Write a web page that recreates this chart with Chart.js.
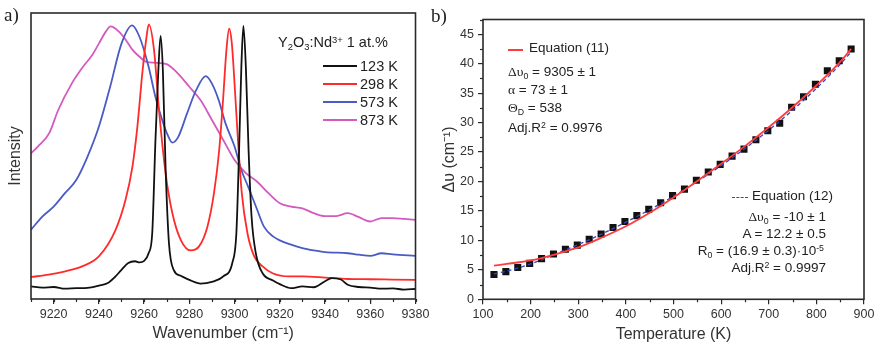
<!DOCTYPE html>
<html><head><meta charset="utf-8">
<script src="https://cdn.jsdelivr.net/npm/chart.js@4.4.1/dist/chart.umd.min.js"></script>
<style>
html,body{margin:0;padding:0;background:#fff;}
#wrap{position:relative;width:883px;height:347px;overflow:hidden;font-family:"Liberation Sans",Arial,sans-serif;color:#222;}
canvas{position:absolute;top:0;}
#ca{left:0;}
#cb{left:440px;}
.t{position:absolute;white-space:nowrap;line-height:1;}
.s{font-family:"Liberation Serif","Times New Roman",serif;}
sub,sup{font-size:65%;line-height:0;position:relative;vertical-align:baseline;}
sub{top:0.35em;} sup{top:-0.45em;}
.ln{position:absolute;height:0;}
</style></head>
<body><div id="wrap">
<canvas id="ca" width="440" height="347"></canvas>
<canvas id="cb" width="443" height="347"></canvas>

<div class="t s" style="left:4px;top:5px;font-size:19px;">a)</div>
<div class="t s" style="left:431px;top:6px;font-size:19px;">b)</div>

<div class="t" style="left:278px;top:35px;font-size:14.5px;">Y<sub>2</sub>O<sub>3</sub>:Nd<sup>3+</sup> 1 at.%</div>
<div class="ln" style="left:323px;top:65px;width:34px;border-top:2px solid #111;"></div>
<div class="t" style="left:360px;top:59px;font-size:14.5px;">123 K</div>
<div class="ln" style="left:323px;top:83px;width:34px;border-top:2px solid #ff2a2a;"></div>
<div class="t" style="left:360px;top:77px;font-size:14.5px;">298 K</div>
<div class="ln" style="left:323px;top:101px;width:34px;border-top:2px solid #4a5bc4;"></div>
<div class="t" style="left:360px;top:95px;font-size:14.5px;">573 K</div>
<div class="ln" style="left:323px;top:119px;width:34px;border-top:2px solid #d35bbf;"></div>
<div class="t" style="left:360px;top:113px;font-size:14.5px;">873 K</div>

<div class="ln" style="left:508px;top:49px;width:15px;border-top:2px solid #ff3b3b;"></div>
<div class="t" style="left:529px;top:41px;font-size:13.5px;">Equation (11)</div>
<div class="t" style="left:508px;top:65px;font-size:13.5px;"><span class="s">Δυ</span><sub>0</sub> = 9305 ± 1</div>
<div class="t" style="left:508px;top:83px;font-size:13.5px;"><span class="s">α</span> = 73 ± 1</div>
<div class="t" style="left:508px;top:101px;font-size:13.5px;"><span class="s">Θ</span><sub>D</sub> = 538</div>
<div class="t" style="left:508px;top:121px;font-size:13.5px;">Adj.R<sup>2</sup> = 0.9976</div>

<div class="ln" style="left:732px;top:197px;width:16px;border-top:1.5px dashed #3347c0;"></div>
<div class="t" style="left:752px;top:189px;font-size:13.5px;">Equation (12)</div>
<div class="t" style="right:57px;top:210px;font-size:13.5px;text-align:right;"><span class="s">Δυ</span><sub>0</sub> = -10 ± 1</div>
<div class="t" style="right:57px;top:227px;font-size:13.5px;text-align:right;">A = 12.2 ± 0.5</div>
<div class="t" style="right:59px;top:244px;font-size:13.5px;text-align:right;">R<sub>0</sub> = (16.9 ± 0.3)·10<sup>-5</sup></div>
<div class="t" style="right:57px;top:261px;font-size:13.5px;text-align:right;">Adj.R<sup>2</sup> = 0.9997</div>
</div>
<script>
// ---------- Panel a data ----------
const xTicksA = [9220,9240,9260,9280,9300,9320,9340,9360,9380];
const wn123 = [9210,9215,9220,9225,9230,9235,9240,9244,9247,9250,9253,9256,9258,9260,9262,9263.6,9265,9266.3,9267.3,9268.3,9269.5,9271,9273.2,9276,9280,9285,9290,9295,9299,9300.8,9302,9303,9303.9,9305,9306.2,9307.5,9309.4,9312.4,9317,9320,9325,9330,9335,9340,9343,9347,9350,9355,9360,9365,9370,9375,9380];
const int123 = [4.4,4.0,4.2,3.6,3.8,3.9,4.7,5.6,7.6,10.2,12.6,13.2,12.8,13.3,16,23,55,80,92,80,46,19.5,10,8.2,6.7,5.4,6.0,7.9,12.6,23,52,81,95.5,81,52,29,16,9,6.5,5.2,3.8,4.4,4.1,6.2,7.3,6.8,5.0,4.2,4.0,3.6,3.7,3.3,3.5];
const wn298 = [9210,9217.8,9225.2,9232.6,9240,9247.4,9251.8,9254.8,9257,9259.2,9260.8,9262.1,9264.4,9266.6,9269.5,9272.5,9276.2,9280.6,9284.3,9288,9290.9,9293.2,9294.9,9296.4,9297.6,9298.8,9300,9301.5,9303.2,9305.7,9308.7,9312.4,9316.8,9324.2,9330,9340,9350,9360,9370,9380];
const int298 = [7.7,8.5,9.7,11.4,14.9,24.2,34.7,46,60,78.8,90,96,87,66,44,30,20.7,17,18.4,25.3,37,52,69.5,87,94.5,89.3,75.3,55.6,37,23,14.9,11.4,9,7.9,7.9,7.5,7.0,6.9,6.8,6.7];
const wn573 = [9210,9215,9220,9225,9230,9235,9240,9245,9250,9254.7,9258,9262,9265,9268,9270.5,9272.5,9275,9279,9283,9287.3,9290,9293,9296,9300,9303,9306,9310,9313,9317,9320,9325,9330,9335,9340,9350,9355,9360,9365,9370,9380];
const int573 = [24.2,28.8,32.3,37,41.6,49.8,60.2,74.2,89.3,95.7,91.6,81.2,70.7,62.6,57.2,54.7,56.5,64.9,73,77.9,75.3,69.5,61.4,53.3,45.1,39.3,31.2,25.3,21.9,20.5,19,17.8,17,16.4,16,15.5,15.1,16,15.6,15.1];
const wn873 = [9210,9213,9218,9222,9228,9233,9237,9240,9243,9245.2,9249,9252,9255,9258,9261,9265,9270,9275,9280,9285,9290,9295,9300,9305,9310,9315,9320,9325,9330,9335,9340,9345,9350,9355,9360,9365,9370,9375,9380];
const int873 = [50.9,53.3,57.9,66,75.3,81.2,85.2,89.3,93.4,95.3,93.4,90.5,87,84.7,82.9,82.6,82.1,78.8,74.2,69.5,62.6,55.6,48.6,44,41,37,33.5,32.3,31.7,30,29,29,30,28.6,27.1,28.3,28.3,28.0,27.7];

// ---------- Panel b data ----------
const xTicksB = [100,200,300,400,500,600,700,800,900];
const yTicksB = [0,5,10,15,20,25,30,35,40,45];
const tempK = [123,148,173,198,223,248,273,298,323,348,373,398,423,448,473,498,523,548,573,598,623,648,673,698,723,748,773,798,823,848,873];
const shift = [4.2,4.7,5.4,6.1,6.9,7.7,8.5,9.2,10.2,11.1,12.2,13.2,14.2,15.3,16.4,17.6,18.7,20.2,21.6,22.9,24.3,25.5,27.1,28.6,29.9,32.6,34.4,36.5,38.8,40.5,42.5];
const fitT = [123,150,200,250,300,350,400,450,500,550,600,650,700,750,800,850,873];
const fit11 = [5.7,6.0,6.6,7.6,8.8,10.5,12.4,14.7,17.3,20.1,23.0,26.0,29.2,32.6,36.3,40.3,42.5];
const fit12 = [4.3,4.8,6.0,7.6,9.3,11.1,13.1,15.2,17.5,20.0,22.7,25.6,28.7,32.1,35.8,39.9,42.0];

const pts = (xs, ys) => xs.map((x,i)=>({x:x, y:ys[i]}));
const FONT = '"Liberation Sans", Arial, sans-serif';
const TICKC = '#2a2a2a';

const frame = {
  id:'frame',
  afterDraw(chart, args, o){
    const {ctx, chartArea:a, scales} = chart;
    ctx.save();
    ctx.strokeStyle = TICKC; ctx.lineWidth = 1.2;
    if (o.xMinor){
      const s = scales.x;
      for (let v = o.xMinor[0]; v <= s.max + 1e-9; v += o.xMinor[1]){
        const p = Math.round(s.getPixelForValue(v))+0.5;
        ctx.beginPath(); ctx.moveTo(p, a.bottom); ctx.lineTo(p, a.bottom+3); ctx.stroke();
      }
    }
    if (o.yMinor){
      const s = scales.y;
      for (let v = o.yMinor[0]; v <= s.max + 1e-9; v += o.yMinor[1]){
        const p = Math.round(s.getPixelForValue(v))+0.5;
        ctx.beginPath(); ctx.moveTo(a.left, p); ctx.lineTo(a.left-3, p); ctx.stroke();
      }
    }
    ctx.lineWidth = 1.6;
    ctx.strokeRect(a.left, a.top, a.right-a.left, a.bottom-a.top);
    ctx.restore();
  }
};

const lineDS = (label, xs, ys, color) => ({
  label, data: pts(xs, ys), borderColor: color, backgroundColor: color,
  borderWidth: 1.8, pointRadius: 0, cubicInterpolationMode: 'monotone', fill:false
});

new Chart(document.getElementById('ca'), {
  type: 'line',
  data: { datasets: [
    lineDS('123 K', wn123, int123, '#111111'),
    lineDS('298 K', wn298, int298, '#ff2a2a'),
    lineDS('573 K', wn573, int573, '#4a5bc4'),
    lineDS('873 K', wn873, int873, '#d35bbf')
  ]},
  options: {
    responsive:false, animation:false, devicePixelRatio:1,
    layout:{padding:{top:13,right:24.5,left:0,bottom:0}},
    plugins:{legend:{display:false}, tooltip:{enabled:false}, frame:{xMinor:[9210,10]}},
    scales:{
      x:{type:'linear', min:9210, max:9380,
         afterBuildTicks:s=>{s.ticks = xTicksA.map(v=>({value:v}));},
         afterFit:s=>{s.height=48;},
         grid:{drawOnChartArea:false, drawTicks:true, tickLength:5, color:TICKC, lineWidth:1.2},
         border:{display:false},
         ticks:{callback:v=>String(v), color:'#333', padding:3, maxRotation:0, autoSkip:false, font:{family:FONT,size:12.5}},
         title:{display:true, text:'Wavenumber (cm⁻¹)', color:'#333', padding:{top:0,bottom:4}, font:{family:FONT,size:16}}},
      y:{type:'linear', min:0, max:100,
         afterFit:s=>{s.width=31;},
         grid:{display:false}, border:{display:false},
         ticks:{display:false},
         title:{display:true, text:'Intensity', color:'#333', padding:{top:6,bottom:0}, font:{family:FONT,size:16}}}
    }
  },
  plugins:[frame]
});

new Chart(document.getElementById('cb'), {
  type: 'line',
  data: { datasets: [
    {label:'Equation (11)', data: pts(fitT, fit11), borderColor:'#ff3b3b', borderWidth:1.8, pointRadius:0, cubicInterpolationMode:'monotone', order:0},
    {label:'Equation (12)', data: pts(fitT, fit12), borderColor:'#3347c0', borderWidth:1.3, borderDash:[4,3], pointRadius:0, cubicInterpolationMode:'monotone', order:1},
    {label:'data', data: pts(tempK, shift), showLine:false, pointStyle:'rect', pointRadius:5, pointBackgroundColor:'#111', pointBorderColor:'#111', pointBorderWidth:0, order:2}
  ]},
  options: {
    responsive:false, animation:false, devicePixelRatio:1,
    layout:{padding:{top:19.5,right:19,left:0,bottom:0}},
    plugins:{legend:{display:false}, tooltip:{enabled:false}, frame:{xMinor:[150,100], yMinor:[2.5,5]}},
    scales:{
      x:{type:'linear', min:100, max:900,
         afterBuildTicks:s=>{s.ticks = xTicksB.map(v=>({value:v}));},
         afterFit:s=>{s.height=47.7;},
         grid:{drawOnChartArea:false, drawTicks:true, tickLength:5, color:TICKC, lineWidth:1.2},
         border:{display:false},
         ticks:{callback:v=>String(v), color:'#333', padding:3, maxRotation:0, autoSkip:false, font:{family:FONT,size:12.5}},
         title:{display:true, text:'Temperature (K)', color:'#333', padding:{top:0,bottom:3}, font:{family:FONT,size:16}}},
      y:{type:'linear', min:0, max:47.5,
         afterBuildTicks:s=>{s.ticks = yTicksB.map(v=>({value:v}));},
         afterFit:s=>{s.width=43;},
         grid:{drawOnChartArea:false, drawTicks:true, tickLength:5, color:TICKC, lineWidth:1.2},
         border:{display:false},
         ticks:{callback:v=>String(v), color:'#333', padding:4, autoSkip:false, font:{family:FONT,size:12.5}},
         title:{display:true, text:'Δυ (cm⁻¹)', color:'#333', padding:{top:0,bottom:0}, font:{family:FONT,size:16}}}
    }
  },
  plugins:[frame]
});
</script>
</body></html>
